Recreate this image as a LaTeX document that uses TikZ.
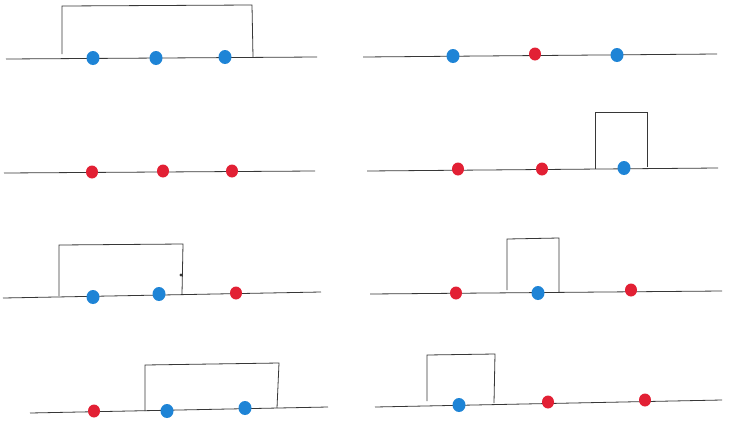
\documentclass[tikz,border=0pt]{standalone}
\usetikzlibrary{shapes.geometric}
\definecolor{dotblue}{RGB}{30,132,214}
\definecolor{dotred}{RGB}{226,32,52}
\definecolor{pen}{RGB}{55,55,55}
\begin{document}
\begin{tikzpicture}[x=1pt,y=-1pt,
  axis/.style={pen,line width=0.8pt},
  box/.style={pen,line width=0.8pt},
  bdot/.style={ellipse,fill=dotblue,inner sep=0pt,minimum width=13pt,minimum height=14pt},
  rdot/.style={ellipse,fill=dotred,inner sep=0pt,minimum width=12pt,minimum height=13pt}]
  \useasboundingbox (0,0) rectangle (731,421);

  % left column
  \draw[axis] (6,59) -- (317,57);
  \draw[box] (62,54) -- (62,6) -- (252,5) -- (253,57);
  \foreach \x/\y/\c/\n in {93/58/bdot/l1a,156/58/bdot/l1b,225/57/bdot/l1c}{
    \node[\c] (\n) at (\x,\y) {};}

  \draw[axis] (4,173) -- (315,171);
  \foreach \x/\y/\c/\n in {92/172/rdot/l2a,163/171/rdot/l2b,232/171/rdot/l2c}{
    \node[\c] (\n) at (\x,\y) {};}

  \draw[axis] (3,298) -- (321,292);
  \draw[box] (59,296) -- (59,245) -- (183,244) -- (182,294);
  \fill[pen] (181,275) circle (1.6pt);
  \foreach \x/\y/\c/\n in {93/297/bdot/l3a,159/294/bdot/l3b,236/293/rdot/l3c}{
    \node[\c] (\n) at (\x,\y) {};}

  \draw[axis] (30,413) -- (328,407);
  \draw[box] (145,411) -- (145,365) -- (279,363) -- (277,408);
  \foreach \x/\y/\c/\n in {94/411/rdot/l4a,167/411/bdot/l4b,245/408/bdot/l4c}{
    \node[\c] (\n) at (\x,\y) {};}

  % right column
  \draw[axis] (363,57) -- (717,54);
  \foreach \x/\y/\c/\n in {453/56/bdot/r1a,535/54/rdot/r1b,617/55/bdot/r1c}{
    \node[\c] (\n) at (\x,\y) {};}

  \draw[axis] (367,171) -- (718,168);
  \draw[box] (595,169) -- (595,112) -- (647,112) -- (647,167);
  \foreach \x/\y/\c/\n in {458/169/rdot/r2a,542/169/rdot/r2b,624/168/bdot/r2c}{
    \node[\c] (\n) at (\x,\y) {};}

  \draw[axis] (370,294) -- (722,291);
  \draw[box] (507,290) -- (507,239) -- (559,238) -- (559,292);
  \foreach \x/\y/\c/\n in {456/293/rdot/r3a,538/293/bdot/r3b,631/290/rdot/r3c}{
    \node[\c] (\n) at (\x,\y) {};}

  \draw[axis] (375,407) -- (722,400);
  \draw[box] (427,401) -- (427,355) -- (495,354) -- (494,403);
  \foreach \x/\y/\c/\n in {459/405/bdot/r4a,548/402/rdot/r4b,645/400/rdot/r4c}{
    \node[\c] (\n) at (\x,\y) {};}
\end{tikzpicture}
\end{document}
